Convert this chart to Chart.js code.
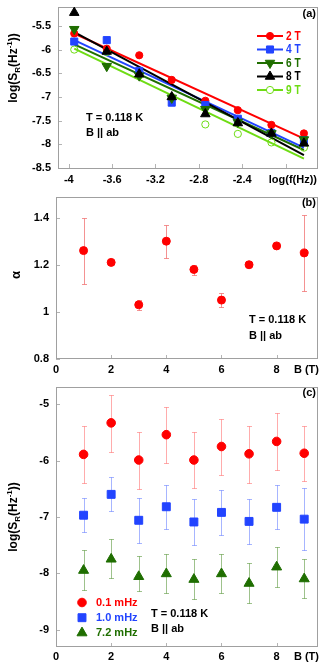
<!DOCTYPE html>
<html>
<head>
<meta charset="utf-8">
<script src="https://cdn.jsdelivr.net/npm/chart.js@4.4.1/dist/chart.umd.min.js"></script>
<style>
  body { margin: 0; background: #fff; }
  #wrap { position: relative; width: 327px; height: 663px; }
  canvas { position: absolute; left: 0; }
</style>
</head>
<body>
<div id="wrap">
  <canvas id="panelA" width="327" height="192" style="top:0px"></canvas>
  <canvas id="panelB" width="327" height="190" style="top:192px"></canvas>
  <canvas id="panelC" width="327" height="283" style="top:380px"></canvas>
</div>
<script>
// panel (a): spectra vs log frequency
const logFreq = [-3.95, -3.65, -3.35, -3.05, -2.74, -2.44, -2.13, -1.83];
const fieldLabels = ["2 T", "4 T", "6 T", "8 T", "9 T"];
const spec2T = [-5.66, -5.98, -6.12, -6.64, -7.08, -7.28, -7.59, -7.77];
const spec4T = [-5.83, -5.80, -6.45, -7.12, -7.17, -7.46, -7.76, -7.91];
const spec6T = [-5.57, -6.35, -6.55, -7.02, -7.26, -7.53, -7.77, -7.90];
const spec8T = [-5.22, -6.04, -6.52, -7.00, -7.36, -7.55, -7.77, -7.98];
const spec9T = [-6.00, -6.05, -6.55, -7.00, -7.58, -7.78, -7.96, -8.07];
const fitFreq = [-3.95, -1.83];
const fit2T = [-5.66, -7.88];
const fit4T = [-5.80, -8.07];
const fit6T = [-5.89, -8.12];
const fit8T = [-5.63, -8.23];
const fit9T = [-5.98, -8.30];
const ticksLogF = [-4, -3.6, -3.2, -2.8, -2.4, -2.0];
const ticksSpecA = [-8.5, -8, -7.5, -7, -6.5, -6, -5.5];

// panel (b): exponent alpha vs field
const fieldB = [1, 2, 3, 4, 5, 6, 7, 8, 9];
const alpha = [1.26, 1.21, 1.03, 1.30, 1.18, 1.05, 1.20, 1.28, 1.25];
const alphaLow = [1.12, 1.21, 1.01, 1.23, 1.155, 1.02, 1.20, 1.28, 1.09];
const alphaHigh = [1.40, 1.21, 1.05, 1.37, 1.20, 1.08, 1.20, 1.28, 1.41];
const ticksField = [0, 2, 4, 6, 8];
const ticksAlpha = [0.8, 1, 1.2, 1.4];

// panel (c): spectra at fixed frequencies vs field
const freqLabels = ["0.1 mHz", "1.0 mHz", "7.2 mHz"];
const s01 = [-5.89, -5.33, -5.99, -5.54, -5.99, -5.75, -5.88, -5.66, -5.87];
const s01Low = [-6.40, -5.84, -6.51, -6.05, -6.49, -6.26, -6.39, -6.16, -6.37];
const s01High = [-5.39, -4.84, -5.50, -5.05, -5.50, -5.26, -5.38, -5.16, -5.38];
const s10 = [-6.97, -6.60, -7.06, -6.82, -7.09, -6.92, -7.08, -6.83, -7.04];
const s10Low = [-7.27, -6.90, -7.47, -7.22, -7.50, -7.33, -7.48, -7.22, -7.58];
const s10High = [-6.67, -6.29, -6.67, -6.43, -6.69, -6.52, -6.68, -6.43, -6.49];
const s72 = [-7.95, -7.75, -8.06, -8.01, -8.11, -8.01, -8.18, -7.89, -8.10];
const s72Low = [-8.30, -8.08, -8.32, -8.35, -8.45, -8.35, -8.53, -8.25, -8.44];
const s72High = [-7.59, -7.39, -7.70, -7.65, -7.75, -7.65, -7.82, -7.53, -7.74];
const ticksSpecC = [-9, -8, -7, -6, -5];

const FONT = '"Liberation Sans", Arial, sans-serif';
const RED = "#ff0000", BLUE = "#2244ff", GREEN = "#1f6e00", BLACK = "#000000", LIME = "#6edc14";

function pts(xs, ys) {
  return xs.map((x, i) => ({ x: x, y: ys[i] }));
}

function text(ctx, s, x, y, color, size, align) {
  ctx.font = "bold " + size + "px " + FONT;
  ctx.fillStyle = color;
  ctx.textAlign = align || "left";
  ctx.textBaseline = "middle";
  ctx.fillText(s, x, y);
}

function marker(ctx, style, r, rot, fill, stroke, x, y) {
  ctx.fillStyle = fill;
  ctx.strokeStyle = stroke;
  ctx.lineWidth = 1;
  Chart.helpers.drawPoint(ctx, { pointStyle: style, radius: r, rotation: rot, borderWidth: 1 }, x, y);
}

// rotated y title log(S_R(Hz^-1))
function specTitle(ctx, cx, cy) {
  ctx.save();
  ctx.translate(cx, cy);
  ctx.rotate(-Math.PI / 2);
  const parts = [["log(S", 12, 4], ["R", 8, 7], ["(Hz", 12, 4], ["-1", 8, -1], ["))", 12, 4]];
  let w = 0;
  parts.forEach(p => {
    ctx.font = "bold " + p[1] + "px " + FONT;
    w += ctx.measureText(p[0]).width;
  });
  let x = -w / 2;
  ctx.fillStyle = "#000";
  ctx.textAlign = "left";
  ctx.textBaseline = "alphabetic";
  parts.forEach(p => {
    ctx.font = "bold " + p[1] + "px " + FONT;
    ctx.fillText(p[0], x, p[2]);
    x += ctx.measureText(p[0]).width;
  });
  ctx.restore();
}

function makeScales(x, y) {
  const tickFont = { family: FONT, size: 11, weight: "bold" };
  return {
    x: {
      type: "linear", min: x.min, max: x.max,
      afterBuildTicks: s => { s.ticks = x.ticks.map(v => ({ value: v })); },
      afterFit: s => { s.height = x.size; s.paddingLeft = 0; s.paddingRight = 0; },
      grid: { display: false, drawTicks: false },
      border: { display: false },
      ticks: {
        padding: x.pad, color: "#000", font: tickFont, maxRotation: 0, autoSkip: false,
        callback: v => (x.hide && x.hide.includes(v) ? "" : String(v)),
      },
    },
    y: {
      type: "linear", min: y.min, max: y.max,
      afterBuildTicks: s => { s.ticks = y.ticks.map(v => ({ value: v })); },
      afterFit: s => { s.width = y.size; s.paddingTop = 0; s.paddingBottom = 0; },
      grid: { display: false, drawTicks: false },
      border: { display: false },
      ticks: { padding: 7, color: "#000", font: tickFont, autoSkip: false, callback: v => String(v) },
    },
  };
}

function panelPlugin(draw) {
  return {
    id: "panelDecor",
    beforeDatasetsDraw(chart) {
      const { ctx, chartArea: a, scales } = chart;
      ctx.save();
      ctx.lineWidth = 1;
      ctx.strokeStyle = "#b4b4b4";
      ctx.beginPath();
      scales.x.ticks.forEach(t => {
        const px = Math.round(scales.x.getPixelForValue(t.value)) + 0.5;
        ctx.moveTo(px, a.bottom);
        ctx.lineTo(px, a.bottom - 4);
      });
      scales.y.ticks.forEach(t => {
        const py = Math.round(scales.y.getPixelForValue(t.value)) + 0.5;
        ctx.moveTo(a.left, py);
        ctx.lineTo(a.left + 4, py);
      });
      ctx.stroke();
      ctx.strokeStyle = "#a0a0a0";
      ctx.strokeRect(Math.round(a.left) + 0.5, Math.round(a.top) + 0.5,
        Math.round(a.right - a.left) - 1, Math.round(a.bottom - a.top) - 1);

      // error bars
      chart.data.datasets.forEach((ds, di) => {
        if (!ds.errLow) return;
        const meta = chart.getDatasetMeta(di);
        ctx.strokeStyle = ds.errColor;
        ctx.beginPath();
        meta.data.forEach((el, i) => {
          if (ds.errLow[i] === ds.errHigh[i]) return;
          const x = Math.round(el.x) + 0.5;
          const y1 = Math.round(scales.y.getPixelForValue(ds.errLow[i])) + 0.5;
          const y2 = Math.round(scales.y.getPixelForValue(ds.errHigh[i])) + 0.5;
          ctx.moveTo(x, y1); ctx.lineTo(x, y2);
          ctx.moveTo(x - 2.5, y1); ctx.lineTo(x + 2.5, y1);
          ctx.moveTo(x - 2.5, y2); ctx.lineTo(x + 2.5, y2);
        });
        ctx.stroke();
      });
      ctx.restore();
    },
    afterDatasetsDraw(chart) {
      chart.ctx.save();
      draw(chart);
      chart.ctx.restore();
    },
  };
}

const baseOptions = {
  responsive: false,
  animation: false,
  events: [],
  plugins: { legend: { display: false }, tooltip: { enabled: false } },
};

// ---------- panel (a) ----------
const seriesA = [
  { label: fieldLabels[0], y: spec2T, fit: fit2T, color: RED, style: "circle", r: 3.6, rot: 0, fill: RED, order: 4 },
  { label: fieldLabels[1], y: spec4T, fit: fit4T, color: BLUE, style: "rect", r: 5, rot: 0, fill: BLUE, order: 3 },
  { label: fieldLabels[2], y: spec6T, fit: fit6T, color: GREEN, style: "triangle", r: 5.5, rot: 180, fill: GREEN, order: 2 },
  { label: fieldLabels[3], y: spec8T, fit: fit8T, color: BLACK, style: "triangle", r: 5.5, rot: 0, fill: BLACK, order: 1 },
  { label: fieldLabels[4], y: spec9T, fit: fit9T, color: LIME, style: "circle", r: 3.6, rot: 0, fill: "rgba(255,255,255,0)", order: 5 },
];

const datasetsA = [];
seriesA.forEach((s, i) => {
  datasetsA.push({
    label: s.label + " fit", data: pts(fitFreq, s.fit), showLine: true,
    borderColor: s.color, borderWidth: 2, pointRadius: 0, order: i === 3 ? 10 : 11 + i,
  });
  datasetsA.push({
    label: s.label, data: pts(logFreq, s.y), showLine: false,
    pointStyle: s.style, pointRadius: s.r, pointRotation: s.rot,
    pointBackgroundColor: s.fill, pointBorderColor: s.color, pointBorderWidth: 1, order: s.order,
  });
});

new Chart(document.getElementById("panelA"), {
  type: "scatter",
  data: { datasets: datasetsA },
  options: Object.assign({}, baseOptions, {
    layout: { padding: { top: 3, right: 9, left: 0, bottom: 0 } },
    scales: makeScales(
      { min: -4.1, max: -1.7, ticks: ticksLogF, size: 24, pad: 5, hide: [-2] },
      { min: -8.5, max: -5.09, ticks: ticksSpecA, size: 58 }
    ),
  }),
  plugins: [panelPlugin(chart => {
    const ctx = chart.ctx;
    text(ctx, "log(f(Hz))", 317, 180, "#000", 11, "right");
    text(ctx, "(a)", 316, 14, "#000", 11, "right");
    text(ctx, "T = 0.118 K", 86, 118, "#000", 11);
    text(ctx, "B || ab", 86, 133, "#000", 11);
    specTitle(ctx, 13, 68);
    seriesA.forEach((s, i) => {
      const y = 36 + 13.5 * i;
      ctx.strokeStyle = s.color;
      ctx.lineWidth = 2;
      ctx.beginPath();
      ctx.moveTo(257, y);
      ctx.lineTo(283, y);
      ctx.stroke();
      marker(ctx, s.style, s.r, s.rot, s.fill === RED || s.color !== LIME ? s.fill : "#fff", s.color, 270, y);
      ctx.save();
      ctx.translate(286, y);
      ctx.scale(0.78, 1);
      text(ctx, s.label, 0, 0, s.color, 13);
      ctx.restore();
    });
  })],
});

// ---------- panel (b) ----------
new Chart(document.getElementById("panelB"), {
  type: "scatter",
  data: {
    datasets: [{
      label: "alpha", data: pts(fieldB, alpha),
      pointStyle: "circle", pointRadius: 4, pointBackgroundColor: RED, pointBorderColor: RED,
      errLow: alphaLow, errHigh: alphaHigh, errColor: "rgba(240,110,110,0.75)",
    }],
  },
  options: Object.assign({}, baseOptions, {
    layout: { padding: { top: 2, right: 9, left: 0, bottom: 0 } },
    scales: makeScales(
      { min: 0, max: 9.5, ticks: ticksField, size: 23, pad: 4 },
      { min: 0.8, max: 1.4875, ticks: ticksAlpha, size: 56 }
    ),
  }),
  plugins: [panelPlugin(chart => {
    const ctx = chart.ctx;
    text(ctx, "B (T)", 319, 178, "#000", 11, "right");
    text(ctx, "(b)", 316, 11, "#000", 11, "right");
    text(ctx, "T = 0.118 K", 249, 128, "#000", 11);
    text(ctx, "B || ab", 249, 144, "#000", 11);
    ctx.save();
    ctx.translate(16, 83);
    ctx.rotate(-Math.PI / 2);
    text(ctx, "α", 0, 0, "#000", 13, "center");
    ctx.restore();
  })],
});

// ---------- panel (c) ----------
const seriesC = [
  { label: freqLabels[0], y: s01, lo: s01Low, hi: s01High, color: RED, err: "rgba(255,70,70,0.45)", style: "circle", r: 4.3 },
  { label: freqLabels[1], y: s10, lo: s10Low, hi: s10High, color: BLUE, err: "rgba(60,90,255,0.45)", style: "rect", r: 5.6 },
  { label: freqLabels[2], y: s72, lo: s72Low, hi: s72High, color: GREEN, err: "rgba(40,120,0,0.45)", style: "triangle", r: 5.8 },
];

new Chart(document.getElementById("panelC"), {
  type: "scatter",
  data: {
    datasets: seriesC.map(s => ({
      label: s.label, data: pts(fieldB, s.y),
      pointStyle: s.style, pointRadius: s.r, pointBackgroundColor: s.color, pointBorderColor: s.color,
      errLow: s.lo, errHigh: s.hi, errColor: s.err,
    })),
  },
  options: Object.assign({}, baseOptions, {
    layout: { padding: { top: 4, right: 9, left: 0, bottom: 0 } },
    scales: makeScales(
      { min: 0, max: 9.5, ticks: ticksField, size: 16, pad: 3 },
      { min: -9.31, max: -4.69, ticks: ticksSpecC, size: 56 }
    ),
  }),
  plugins: [panelPlugin(chart => {
    const ctx = chart.ctx;
    text(ctx, "B (T)", 319, 277, "#000", 11, "right");
    text(ctx, "(c)", 316, 13, "#000", 11, "right");
    text(ctx, "T = 0.118 K", 151, 234, "#000", 11);
    text(ctx, "B || ab", 151, 249, "#000", 11);
    specTitle(ctx, 13, 137);
    seriesC.forEach((s, i) => {
      const y = 222.5 + 15.2 * i;
      marker(ctx, s.style, s.r, 0, s.color, s.color, 82, y);
      text(ctx, s.label, 96, y, s.color, 11);
    });
  })],
});
</script>
</body>
</html>
